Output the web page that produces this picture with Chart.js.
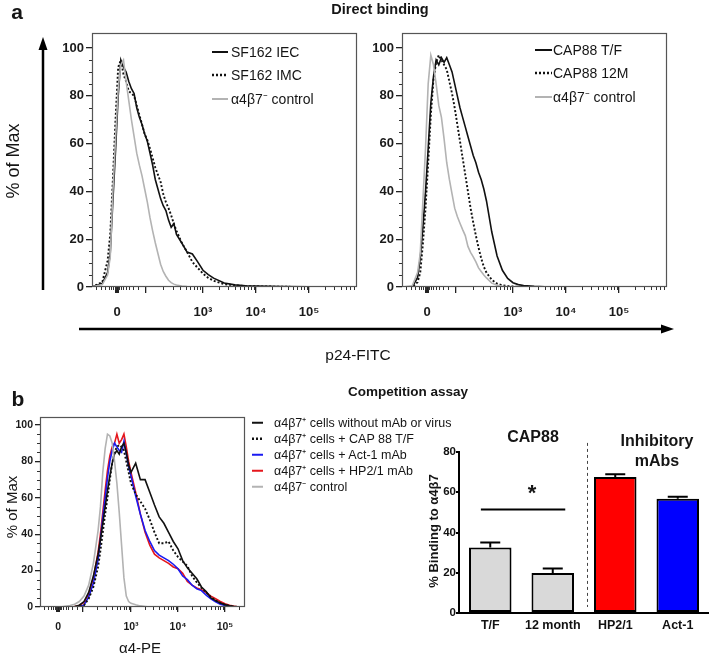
<!DOCTYPE html>
<html>
<head>
<meta charset="utf-8">
<script src="https://cdn.jsdelivr.net/npm/chart.js@4.4.1/dist/chart.umd.min.js"></script>
<style>
body{margin:0;background:#fff;width:709px;height:654px;position:relative;overflow:hidden;font-family:"Liberation Sans",Arial,sans-serif;color:#151515}
canvas{position:absolute}
.t{position:absolute;white-space:nowrap;line-height:1}
.b{font-weight:bold}
.c{transform:translate(-50%,-50%)}
.rot{transform:translate(-50%,-50%) rotate(-90deg)}
.lg{position:absolute;display:flex;align-items:center;white-space:nowrap;transform:translateY(-50%);line-height:1}
.lg svg{display:block}
</style>
</head>
<body>
<canvas id="histA1" width="323" height="306" style="left:42px;top:21px"></canvas>
<canvas id="histA2" width="323" height="306" style="left:352px;top:21px"></canvas>
<canvas id="histB" width="253" height="234" style="left:0px;top:405px"></canvas>
<canvas id="barB" width="300" height="203" style="left:409px;top:440px"></canvas>

<svg width="709" height="654" style="position:absolute;left:0;top:0">
  <line x1="43" y1="290" x2="43" y2="48" stroke="#000" stroke-width="2.5"/>
  <polygon points="43,37 38.5,50 47.5,50" fill="#000"/>
  <line x1="79" y1="329" x2="662" y2="329" stroke="#000" stroke-width="2.5"/>
  <polygon points="674,329 661,324.5 661,333.5" fill="#000"/>
</svg>

<div class="t b c" style="left:17px;top:11px;font-size:21px">a</div>
<div class="t b c" style="left:380px;top:9px;font-size:14.5px">Direct binding</div>
<div class="t rot" style="left:13px;top:161px;font-size:18px">% of Max</div>
<div class="t c" style="left:358px;top:355px;font-size:15.5px">p24-FITC</div>

<div class="t b c" style="left:18px;top:398px;font-size:21px">b</div>
<div class="t b c" style="left:408px;top:392px;font-size:13.5px">Competition assay</div>
<div class="t rot" style="left:11px;top:507px;font-size:15px">% of Max</div>
<div class="t c" style="left:140px;top:647px;font-size:15px">α4-PE</div>
<div class="t b c" style="left:533px;top:437px;font-size:16px">CAP88</div>
<div class="t b c" style="left:657px;top:441px;font-size:16px">Inhibitory</div>
<div class="t b c" style="left:657px;top:461px;font-size:16px">mAbs</div>
<div class="t b rot" style="left:433px;top:531px;font-size:13px">% Binding to α4β7</div>
<div class="t b c" style="left:532px;top:493px;font-size:22px">*</div>

<script>
// panel a: shared x grid (display decades of the biexponential axis)
const gridA = [0.9,1.1,1.2,1.25,1.3,1.35,1.4,1.45,1.5,1.55,1.6,1.65,1.7,1.75,1.8,1.85,1.9,1.95,2.0,2.05,2.1,2.15,2.2,2.25,2.3,2.35,2.4,2.45,2.5,2.6,2.7,2.8,2.9,3.0,3.1,3.2,3.4,3.6,3.8,4.0,4.5,5.0,5.9];
const sf162IEC = [0,1.5,6,14,36,57,80,95,92,90,86,83,81,75,71,68,64,61,56,51,45,41,37,34,32,28,25,26.5,22,18.4,14.6,13.8,10.5,7,5.2,3.7,1.7,0.9,0.5,0.4,0.2,0.1,0];
const sf162IMC = [0,2,11,22,45,70,92,95,89,86,82,81,80,76,72,68,64,61.5,58,54,50,47,44,39,35.5,33,30,26.5,23.5,18.5,14.6,10.5,8,5.6,3.8,2.6,1.2,0.7,0.4,0.3,0.1,0,0];
const ctrlA1 = [0,1,5,12.6,40,62,83,93,95,86,78,70,63,56,51,46.5,41,35.5,29,23.5,18.5,14,9.5,6.5,4.5,2.8,1.8,1.2,0.8,0.4,0.2,0.1,0,0,0,0,0,0,0,0,0,0,0];
const cap88TF = [0,0,4,12,25,40,58,77,88,95,93,96,94,96,93,90,85,80,75,71,67,63,59,55,52,48,45,41,36,23,13,7,3.6,1.8,1.0,0.6,0.3,0.1,0,0,0,0,0];
const cap88M12 = [0,0,2,6,18,33,52,72,87,94,97,95,93,91,86,81,75,68,61,54,47,40,33,27,21.5,16.5,12,8.5,6,3,1.4,0.7,0.4,0.2,0.1,0,0,0,0,0,0,0,0];
const ctrlA2 = [0,0.5,6,14,36,58,85,97,93,85,76,71,62,52,45,39,33,29.5,26.7,24,21.5,17,14.5,12.6,10.5,8,6.5,5,3.8,1.6,0.7,0.3,0.1,0,0,0,0,0,0,0,0,0,0];

// panel b histogram
const gridB = [1.06,1.5,1.7,1.8,1.9,2.0,2.1,2.2,2.3,2.35,2.4,2.45,2.5,2.55,2.6,2.65,2.7,2.75,2.8,2.85,2.9,2.95,3.0,3.1,3.2,3.3,3.4,3.5,3.6,3.7,3.8,3.9,4.0,4.1,4.2,4.3,4.4,4.5,4.6,4.7,4.8,4.9,5.0,5.1,5.2,5.3,5.43];
const noMabB = [0,0,0,0.3,1,3,8,17,29,37,46,55,64,72,79,84,86,84,88,90,85,78,74,79,70,70,63,56,49.5,46,41,36,32,25.5,21.5,18.5,15.5,11,8.5,5,3.5,2.2,1.3,0.6,0.2,0,0];
const capTFB = [0,0,0,0,0.3,1,4.5,11,22,31,41,51,60,70,79,85,88,89,88,86,80,74,68,62,58,54,48,41,35,35,36,31,27.5,25,22.5,17,13.5,10.5,8,5.5,3.5,2.3,1.3,0.6,0.2,0,0];
const act1B = [0,0,0,0,0.2,1,5.5,13,26,37,49,60,71,80,86,90,88,86,85,91,84,77,72,61,51,42,36,31,28.5,27,25.5,23.5,21,17,15,12,10,9,6.5,4.5,2.8,1.5,0.8,0.3,0,0,0];
const hp21B = [0,0,0,0.2,0.8,2.5,7,16,30,40,52,64,75,83,88,90,95,90,92,95,88,80,74,63,51,41,34,29,27,25.5,24,22,21,18.5,14,12,10.5,9.5,8,6,4.5,3,1.8,1,0.4,0,0];
const ctrlB = [0,0,0.8,1.5,3,6,12,24,42,55,74,87,95,94,90,80,68,52,34,16,6,3,2,1.2,0.6,0.3,0,0,0,0,0,0,0,0,0,0,0,0,0,0,0,0,0,0,0,0,0];

// axis ticks
const xTicksA = [1.38, 1.92, 3, 4, 5];
const xTicksB = [1.45, 1.98, 3, 4, 5];
const xTickLabels = ['0', '', '10³', '10⁴', '10⁵'];
const yTicksHist = [0, 20, 40, 60, 80, 100];

// bar chart
const barCats = ['T/F', '12 month', 'HP2/1', 'Act-1'];
const bindingPct = [32.5, 19.9, 67.6, 56.8];
const bindingErr = [2.5, 2.2, 1.3, 1.0];
const sigLevel = 51.4;

const legendA1 = ['SF162 IEC', 'SF162 IMC', 'α4β7⁻ control'];
const legendA2 = ['CAP88 T/F', 'CAP88 12M', 'α4β7⁻ control'];
const legendB = ['α4β7⁺ cells without mAb or virus', 'α4β7⁺ cells + CAP 88 T/F', 'α4β7⁺ cells + Act-1 mAb', 'α4β7⁺ cells + HP2/1 mAb', 'α4β7⁻ control'];

const solid = {color: '#111', width: 1.6};
const dotted = {color: '#111', width: 1.9, dash: [2, 2]};
const grey = {color: '#b3b3b3', width: 1.6};
const blue = {color: '#1a1af2', width: 1.6};
const red = {color: '#e5161c', width: 1.6};

Chart.defaults.font.family = '"Liberation Sans", Arial, sans-serif';
Chart.defaults.color = '#1a1a1a';

function minorX(zero, dec2, max) {
  const out = [];
  [0.02, 0.04, 0.07, 0.11, 0.16, 0.22, 0.3, 0.4].forEach(d => out.push(zero - d, zero + d));
  for (let k = 2; k < 10; k++) out.push(dec2 + (3 - dec2) * Math.log10(k));
  for (let d = 3; d <= 5; d++) for (let k = 2; k < 10; k++) out.push(d + Math.log10(k));
  return out.filter(v => v < max);
}
const minorY = [];
for (let v = 5; v < 100; v += 5) if (v % 20) minorY.push(v);

const framePlugin = {
  id: 'frame',
  defaults: {show: false},
  afterDraw(chart, args, o) {
    if (!o.show) return;
    const {ctx, chartArea: a, scales: {x, y}} = chart;
    ctx.save();
    ctx.strokeStyle = o.color;
    ctx.lineWidth = o.width;
    ctx.strokeRect(a.left + 0.5, a.top + 0.5, a.right - a.left - 1, a.bottom - a.top - 1);
    ctx.lineWidth = 1;
    ctx.strokeStyle = '#333';
    ctx.beginPath();
    o.xMinor.forEach(v => {
      const px = Math.round(x.getPixelForValue(v)) + 0.5;
      if (px < a.left || px > a.right) return;
      ctx.moveTo(px, a.bottom);
      ctx.lineTo(px, a.bottom + o.minorLen);
    });
    minorY.forEach(v => {
      const py = Math.round(y.getPixelForValue(v)) + 0.5;
      ctx.moveTo(a.left, py);
      ctx.lineTo(a.left - o.minorLen, py);
    });
    ctx.stroke();
    ctx.restore();
  }
};

const barExtras = {
  id: 'barExtras',
  defaults: {show: false},
  afterDatasetsDraw(chart, args, o) {
    if (!o.show) return;
    const {ctx, scales: {x, y}} = chart;
    ctx.save();
    ctx.strokeStyle = '#000';
    ctx.lineWidth = 2;
    chart.getDatasetMeta(0).data.forEach((bar, i) => {
      const top = y.getPixelForValue(bindingPct[i] + bindingErr[i]);
      ctx.beginPath();
      ctx.moveTo(bar.x, bar.y);
      ctx.lineTo(bar.x, top);
      ctx.moveTo(bar.x - 10, top);
      ctx.lineTo(bar.x + 10, top);
      ctx.stroke();
    });
    ctx.beginPath();
    ctx.moveTo(x.getPixelForValue(-0.15), y.getPixelForValue(sigLevel));
    ctx.lineTo(x.getPixelForValue(1.2), y.getPixelForValue(sigLevel));
    ctx.stroke();
    ctx.lineWidth = 1;
    ctx.strokeStyle = '#444';
    ctx.setLineDash([3, 3]);
    const dx = Math.round(x.getPixelForValue(1.55)) + 0.5;
    ctx.beginPath();
    ctx.moveTo(dx, y.getPixelForValue(87.5));
    ctx.lineTo(dx, y.getPixelForValue(3));
    ctx.stroke();
    ctx.restore();
  }
};

Chart.register(framePlugin, barExtras);

function histogram(id, grid, series, o) {
  return new Chart(document.getElementById(id), {
    type: 'line',
    data: {
      datasets: series.map(([ys, s]) => ({
        data: grid.map((x, j) => ({x: x, y: ys[j]})),
        borderColor: s.color,
        borderWidth: s.width,
        borderDash: s.dash || [],
        pointRadius: 0,
        tension: 0,
        fill: false
      }))
    },
    options: {
      responsive: false,
      animation: false,
      events: [],
      layout: {padding: {top: 12, right: 8, left: 0, bottom: 0}},
      plugins: {
        legend: {display: false},
        tooltip: {enabled: false},
        frame: {show: true, color: '#555', width: 1.2, xMinor: o.xMinor, minorLen: 3}
      },
      scales: {
        x: {
          type: 'linear', min: o.xMin, max: o.xMax,
          afterFit: s => { s.height = o.xH; },
          afterBuildTicks: s => { s.ticks = o.xTicks.map(v => ({value: v})); },
          grid: {drawOnChartArea: false, tickLength: o.majorLen, color: '#222', lineWidth: c => c.index === 0 ? 4 : 1.3},
          border: {display: false},
          ticks: {autoSkip: false, maxRotation: 0, padding: o.xPad, color: '#1a1a1a',
                  font: {size: o.font, weight: 'bold'}, callback: (v, i) => xTickLabels[i]}
        },
        y: {
          min: 0, max: o.yMax,
          afterFit: s => { s.width = o.yW; },
          afterBuildTicks: s => { s.ticks = yTicksHist.map(v => ({value: v})); },
          grid: {drawOnChartArea: false, tickLength: o.majorLen, color: '#222', lineWidth: 1.3},
          border: {display: false},
          ticks: {padding: o.yPad, color: '#1a1a1a', font: {size: o.font, weight: 'bold'}}
        }
      }
    }
  });
}

histogram('histA1', gridA, [[ctrlA1, grey], [sf162IMC, dotted], [sf162IEC, solid]],
  {xMin: 0.906, xMax: 5.906, yMax: 106.3, xTicks: xTicksA, xMinor: minorX(1.38, 1.92, 5.9),
   xH: 40, yW: 50, majorLen: 6, xPad: 12, yPad: 2, font: 13});
histogram('histA2', gridA, [[ctrlA2, grey], [cap88M12, dotted], [cap88TF, solid]],
  {xMin: 0.906, xMax: 5.906, yMax: 106.3, xTicks: xTicksA, xMinor: minorX(1.38, 1.92, 5.9),
   xH: 40, yW: 50, majorLen: 6, xPad: 12, yPad: 2, font: 13});
histogram('histB', gridB, [[ctrlB, grey], [noMabB, solid], [capTFB, dotted], [act1B, blue], [hp21B, red]],
  {xMin: 1.064, xMax: 5.426, yMax: 104.4, xTicks: xTicksB, xMinor: minorX(1.45, 1.98, 5.42),
   xH: 32, yW: 40, majorLen: 5, xPad: 9, yPad: 2, font: 10.5});

new Chart(document.getElementById('barB'), {
  type: 'bar',
  data: {
    labels: barCats,
    datasets: [{
      data: bindingPct,
      backgroundColor: ['#d9d9d9', '#d9d9d9', '#ff0000', '#0000ff'],
      borderColor: '#000',
      borderWidth: 2,
      borderSkipped: false,
      barPercentage: 0.68,
      categoryPercentage: 1
    }]
  },
  options: {
    responsive: false,
    animation: false,
    events: [],
    layout: {padding: {top: 12, right: 0, left: 0, bottom: 0}},
    plugins: {legend: {display: false}, tooltip: {enabled: false}, barExtras: {show: true}},
    scales: {
      x: {
        afterFit: s => { s.height = 30; },
        grid: {display: false, drawTicks: false},
        border: {display: true, color: '#000', width: 2},
        ticks: {autoSkip: false, maxRotation: 0, minRotation: 0, padding: 5, color: '#111',
                font: {size: 12.5, weight: 'bold'}}
      },
      y: {
        min: 0, max: 80,
        afterFit: s => { s.width = 50; },
        grid: {drawOnChartArea: false, tickLength: 3, color: '#000', lineWidth: 2},
        border: {display: true, color: '#000', width: 2},
        ticks: {stepSize: 20, padding: 0, color: '#111', font: {size: 11.5, weight: 'bold'}}
      }
    }
  }
});

function addLegend(x, ys, lineLen, gap, size, labels, styles) {
  labels.forEach((txt, i) => {
    const s = styles[i];
    const row = document.createElement('div');
    row.className = 'lg';
    row.style.left = x + 'px';
    row.style.top = ys[i] + 'px';
    row.style.fontSize = size + 'px';
    const dash = s.dash ? ` stroke-dasharray="${s.dash.join(' ')}"` : '';
    row.innerHTML = `<svg width="${lineLen}" height="4"><line x1="0" y1="2" x2="${lineLen}" y2="2" stroke="${s.color}" stroke-width="${s.width + 0.4}"${dash}/></svg><span style="margin-left:${gap}px">${txt}</span>`;
    document.body.appendChild(row);
  });
}

addLegend(212, [52, 75, 99], 16, 3, 14, legendA1, [solid, dotted, grey]);
addLegend(535, [50, 73, 97], 17, 1, 14, legendA2, [solid, dotted, grey]);
addLegend(252, [423, 439, 455, 471, 487], 11, 11, 12.5, legendB, [solid, dotted, blue, red, grey]);
</script>
</body>
</html>
